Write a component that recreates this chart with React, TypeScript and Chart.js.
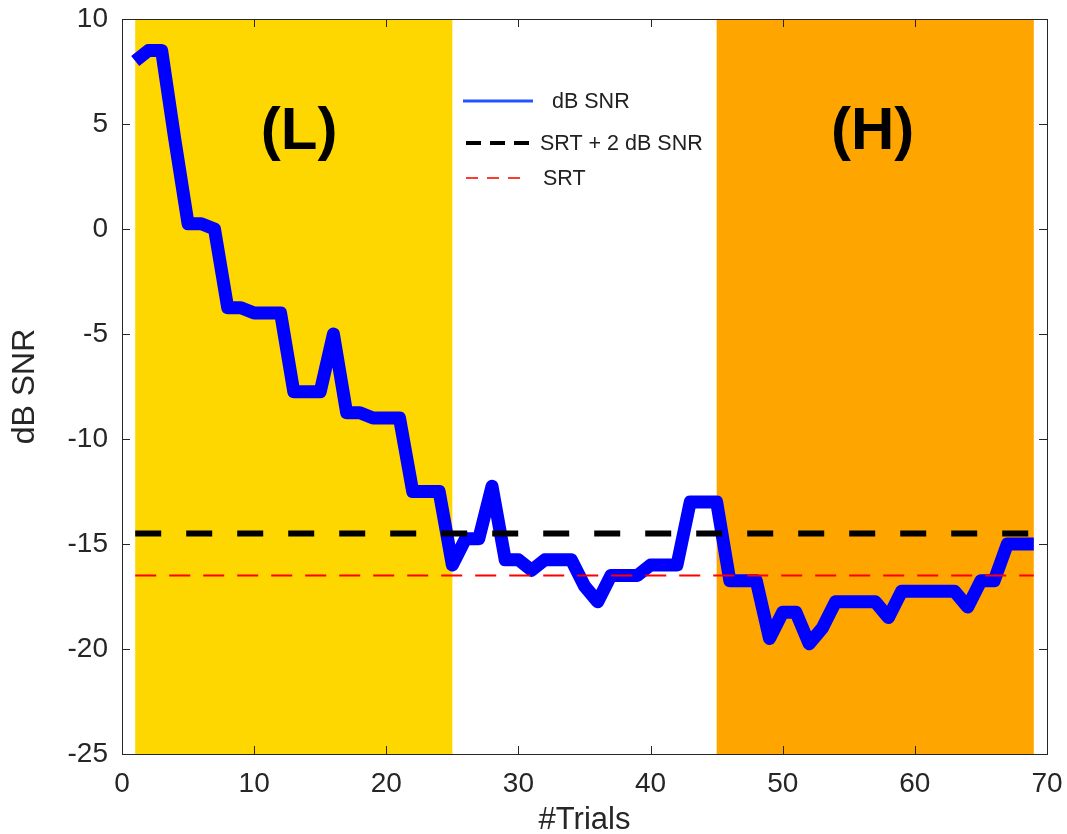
import React, { useEffect, useRef } from "react";
import { Chart, registerables } from "chart.js";

Chart.register(...registerables);

// Trial numbers and adaptive track (dB SNR) per trial
const trials = [
  1, 2, 3, 4, 5, 6, 7, 8, 9, 10, 11, 12, 13, 14, 15, 16, 17, 18, 19, 20, 21, 22, 23,
  24, 25, 26, 27, 28, 29, 30, 31, 32, 33, 34, 35, 36, 37, 38, 39, 40, 41, 42, 43, 44,
  45, 46, 47, 48, 49, 50, 51, 52, 53, 54, 55, 56, 57, 58, 59, 60, 61, 62, 63, 64, 65,
  66, 67, 68, 69,
];
const snrValues = [
  8.0, 8.5, 8.5, 4.25, 0.25, 0.25, 0, -3.75, -3.75, -4, -4, -4, -7.75, -7.75, -7.75, -5,
  -8.75, -8.75, -9, -9, -9, -12.5, -12.5, -12.5, -16, -14.75, -14.75, -12.25, -15.75,
  -15.75, -16.25, -15.75, -15.75, -15.75, -17, -17.75, -16.5, -16.5, -16.5, -16, -16, -16,
  -13, -13, -13, -16.75, -16.75, -16.75, -19.5, -18.25, -18.25, -19.75, -19, -17.75,
  -17.75, -17.75, -17.75, -18.5, -17.25, -17.25, -17.25, -17.25, -17.25, -18, -16.75,
  -16.75, -15, -15, -15,
];

// Reference levels
const srtLevel = -16.5;
const srtPlus2Level = -14.5;
const referenceSpan = [1, 69];

// Shaded trial blocks
const blockStarts = [1, 45];
const blockEnds = [25, 69];
const blockColors = ["#FFD700", "#FFA500"];
const blockNames = ["(L)", "(H)"];
const blockLabelX = [13.4, 56.8];
const blockLabelY = [4.6, 4.6];

// Axis ranges and ticks
const xRange = [0, 70];
const yRange = [-25, 10];
const xTicks = [0, 10, 20, 30, 40, 50, 60, 70];
const yTicks = [-25, -20, -15, -10, -5, 0, 5, 10];

const FONT = "'Liberation Sans', Arial, Helvetica, sans-serif";
const AXIS_COLOR = "#262626";

const blocksPlugin = {
  id: "trialBlocks",
  beforeDatasetsDraw(chart: any) {
    const { ctx, chartArea, scales } = chart;
    const x = scales.x;
    const y = scales.y;
    ctx.save();
    blockStarts.forEach((start, i) => {
      const x0 = x.getPixelForValue(start);
      const x1 = x.getPixelForValue(blockEnds[i]);
      ctx.fillStyle = blockColors[i];
      ctx.fillRect(x0, chartArea.top, x1 - x0, chartArea.bottom - chartArea.top);
    });
    ctx.fillStyle = "#000";
    ctx.font = `bold 60px ${FONT}`;
    ctx.textAlign = "center";
    ctx.textBaseline = "middle";
    blockNames.forEach((name, i) => {
      ctx.fillText(name, x.getPixelForValue(blockLabelX[i]), y.getPixelForValue(blockLabelY[i]));
    });
    ctx.restore();
  },
};

const framePlugin = {
  id: "boxFrame",
  afterDatasetsDraw(chart: any) {
    const { ctx, chartArea, scales } = chart;
    const { left, right, top, bottom } = chartArea;
    const tick = 8;
    ctx.save();
    ctx.strokeStyle = AXIS_COLOR;
    ctx.lineWidth = 1;
    ctx.beginPath();
    xTicks.forEach((v) => {
      const px = Math.round(scales.x.getPixelForValue(v)) + 0.5;
      ctx.moveTo(px, bottom);
      ctx.lineTo(px, bottom - tick);
      ctx.moveTo(px, top);
      ctx.lineTo(px, top + tick);
    });
    yTicks.forEach((v) => {
      const py = Math.round(scales.y.getPixelForValue(v)) + 0.5;
      ctx.moveTo(left, py);
      ctx.lineTo(left + tick, py);
      ctx.moveTo(right, py);
      ctx.lineTo(right - tick, py);
    });
    ctx.stroke();
    ctx.strokeRect(Math.round(left) + 0.5, Math.round(top) + 0.5, Math.round(right - left), Math.round(bottom - top));
    ctx.restore();
  },
};

const legendPlugin = {
  id: "insetLegend",
  afterDraw(chart: any) {
    const { ctx, chartArea } = chart;
    ctx.save();
    chart.data.datasets.forEach((ds: any) => {
      const lg = ds.legendStyle;
      const yy = chartArea.top + lg.row;
      const xs = chartArea.left + lg.start;
      ctx.beginPath();
      ctx.strokeStyle = lg.color;
      ctx.lineWidth = lg.width;
      ctx.setLineDash(lg.dash);
      ctx.moveTo(xs, yy);
      ctx.lineTo(xs + lg.length, yy);
      ctx.stroke();
      ctx.setLineDash([]);
      ctx.fillStyle = "#222";
      ctx.font = `21.5px ${FONT}`;
      ctx.textAlign = "left";
      ctx.textBaseline = "middle";
      ctx.fillText(ds.label, chartArea.left + lg.text, yy + 1);
    });
    ctx.restore();
  },
};

export default function App() {
  const canvasRef = useRef<HTMLCanvasElement | null>(null);

  useEffect(() => {
    if (!canvasRef.current) return;
    const track = trials.map((t, i) => ({ x: t, y: snrValues[i] }));
    const chart = new Chart(canvasRef.current, {
      type: "line",
      data: {
        datasets: [
          {
            label: "dB SNR",
            data: track,
            borderColor: "#0000FF",
            borderWidth: 13,
            borderJoinStyle: "round",
            pointRadius: 0,
            order: 3,
            legendStyle: { color: "#2255FF", width: 3, dash: [], row: 82, start: 341, length: 70, text: 430 },
          } as any,
          {
            label: "SRT + 2 dB SNR",
            data: referenceSpan.map((t) => ({ x: t, y: srtPlus2Level })),
            borderColor: "#000000",
            borderWidth: 6,
            borderDash: [26, 25],
            pointRadius: 0,
            order: 2,
            legendStyle: { color: "#000000", width: 4, dash: [15, 9], row: 124, start: 344, length: 64, text: 418 },
          } as any,
          {
            label: "SRT",
            data: referenceSpan.map((t) => ({ x: t, y: srtLevel })),
            borderColor: "#FF0000",
            borderWidth: 2,
            borderDash: [21, 13],
            pointRadius: 0,
            order: 1,
            legendStyle: { color: "#FF3B2F", width: 2, dash: [12, 9], row: 159, start: 344, length: 54, text: 421 },
          } as any,
        ],
      },
      options: {
        animation: false,
        responsive: false,
        devicePixelRatio: 1,
        layout: { padding: { top: 19, right: 20, left: 0, bottom: 0 } },
        plugins: {
          legend: { display: false },
          tooltip: { enabled: false },
        },
        scales: {
          x: {
            type: "linear",
            min: xRange[0],
            max: xRange[1],
            grid: { display: false, drawTicks: false },
            border: { display: false },
            ticks: {
              stepSize: 10,
              padding: 13,
              color: AXIS_COLOR,
              font: { family: FONT, size: 28 },
            },
            title: {
              display: true,
              text: "#Trials",
              color: AXIS_COLOR,
              font: { family: FONT, size: 31 },
              padding: { top: 0, bottom: -5 },
            },
            afterFit(scale: any) {
              scale.height = 80;
              scale.paddingLeft = 0;
              scale.paddingRight = 0;
            },
          },
          y: {
            type: "linear",
            min: yRange[0],
            max: yRange[1],
            grid: { display: false, drawTicks: false },
            border: { display: false },
            ticks: {
              stepSize: 5,
              padding: 14,
              color: AXIS_COLOR,
              font: { family: FONT, size: 28 },
            },
            title: {
              display: true,
              text: "dB SNR",
              color: AXIS_COLOR,
              font: { family: FONT, size: 32 },
              padding: { top: 6, bottom: 0 },
            },
            afterFit(scale: any) {
              scale.width = 122;
              scale.paddingTop = 0;
              scale.paddingBottom = 0;
            },
          },
        },
      },
      plugins: [blocksPlugin, framePlugin, legendPlugin],
    });
    return () => chart.destroy();
  }, []);

  return (
    <div style={{ position: "fixed", left: 0, top: 0, width: 1067, height: 834, background: "#fff" }}>
      <canvas ref={canvasRef} width={1067} height={834} style={{ display: "block" }} />
    </div>
  );
}
